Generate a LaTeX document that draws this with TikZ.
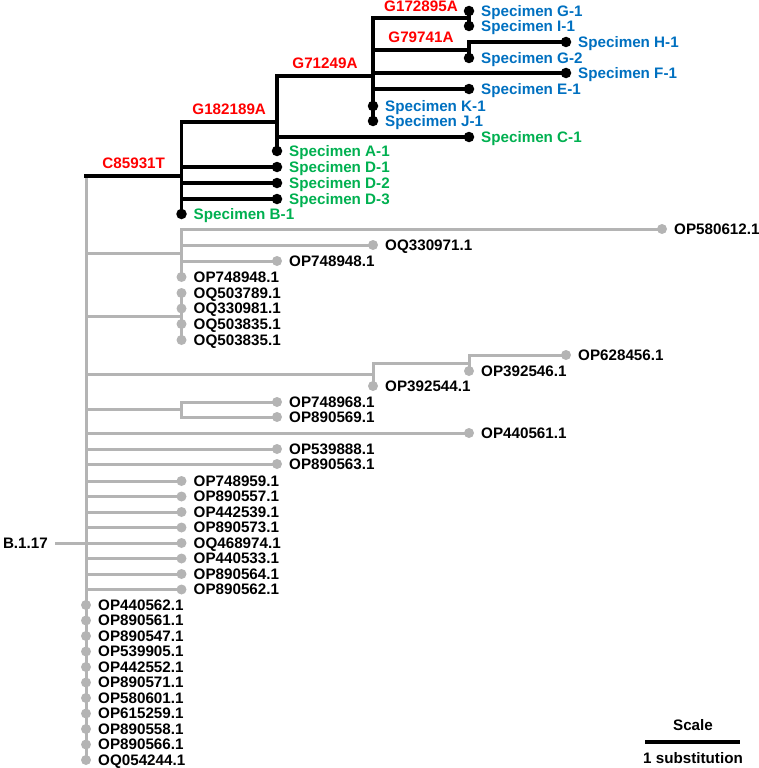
\documentclass[tikz,border=0pt]{standalone}
\usepackage{fontspec}
\setmainfont{Liberation Sans}
\definecolor{tgray}{RGB}{180,180,180}
\definecolor{tred}{RGB}{255,0,0}
\definecolor{tblue}{RGB}{0,112,192}
\definecolor{tgreen}{RGB}{0,176,80}
\pgfdeclarelayer{bg}
\pgfsetlayers{bg,main}
\newcommand\tipnode[6]{\node[#4] (#1) at (#2,#3) {}; \node[lab,text=#5] at ([xshift=12pt]#1.center) {#6};}
\begin{document}
\begin{tikzpicture}[x=1pt,y=-1pt,
  bl/.style={line width=3.2pt, black, line cap=rect},
  gl/.style={line width=3pt, tgray, line cap=rect},
  bdot/.style={circle, fill=black, inner sep=0pt, minimum size=10.5pt},
  gdot/.style={circle, fill=tgray, inner sep=0pt, minimum size=10pt},
  txt/.style={font=\bfseries\fontsize{15.2}{18}\selectfont, inner sep=0pt, text height=10.9pt, text depth=0pt},
  lab/.style={txt, anchor=west},
  mut/.style={txt, text=tred, anchor=center}]
\useasboundingbox (0,0) rectangle (758,768);
% internal nodes
\coordinate (r) at (86,543);
\coordinate (n1) at (181.5,176);
\coordinate (n2) at (277,122);
\coordinate (n3) at (373,76);
\coordinate (n4) at (469,18);
\coordinate (n5) at (469,50);
\coordinate (g1) at (181.5,253);
\coordinate (g2) at (181.5,316);
\coordinate (g3) at (373,374.5);
\coordinate (g4) at (469,363);
\coordinate (g5) at (181.5,409.5);
% black clade tips
\tipnode{G1}{469}{11}{bdot}{tblue}{Specimen G-1}
\tipnode{I1}{469}{26}{bdot}{tblue}{Specimen I-1}
\tipnode{H1}{566}{42}{bdot}{tblue}{Specimen H-1}
\tipnode{G2}{469}{58}{bdot}{tblue}{Specimen G-2}
\tipnode{F1}{566}{73}{bdot}{tblue}{Specimen F-1}
\tipnode{E1}{469}{89}{bdot}{tblue}{Specimen E-1}
\tipnode{K1}{373}{106}{bdot}{tblue}{Specimen K-1}
\tipnode{J1}{373}{121}{bdot}{tblue}{Specimen J-1}
\tipnode{C1}{469}{137}{bdot}{tgreen}{Specimen C-1}
\tipnode{A1}{277}{151}{bdot}{tgreen}{Specimen A-1}
\tipnode{D1}{277}{167}{bdot}{tgreen}{Specimen D-1}
\tipnode{D2}{277}{183}{bdot}{tgreen}{Specimen D-2}
\tipnode{D3}{277}{199}{bdot}{tgreen}{Specimen D-3}
\tipnode{B1}{181.5}{214}{bdot}{tgreen}{Specimen B-1}
% gray tips
\tipnode{P1}{662}{229}{gdot}{black}{OP580612.1}
\tipnode{P2}{373}{245}{gdot}{black}{OQ330971.1}
\tipnode{P3}{277}{261}{gdot}{black}{OP748948.1}
\tipnode{P4}{181.5}{277}{gdot}{black}{OP748948.1}
\tipnode{P5}{181.5}{293}{gdot}{black}{OQ503789.1}
\tipnode{P6}{181.5}{308.5}{gdot}{black}{OQ330981.1}
\tipnode{P7}{181.5}{324}{gdot}{black}{OQ503835.1}
\tipnode{P8}{181.5}{340}{gdot}{black}{OQ503835.1}
\tipnode{P9}{566}{355}{gdot}{black}{OP628456.1}
\tipnode{P10}{469}{371}{gdot}{black}{OP392546.1}
\tipnode{P11}{373}{386}{gdot}{black}{OP392544.1}
\tipnode{P12}{277}{402}{gdot}{black}{OP748968.1}
\tipnode{P13}{277}{417}{gdot}{black}{OP890569.1}
\tipnode{P14}{469}{433}{gdot}{black}{OP440561.1}
\tipnode{P15}{277}{449}{gdot}{black}{OP539888.1}
\tipnode{P16}{277}{464}{gdot}{black}{OP890563.1}
\tipnode{R1}{181.5}{481}{gdot}{black}{OP748959.1}
\tipnode{R2}{181.5}{496.5}{gdot}{black}{OP890557.1}
\tipnode{R3}{181.5}{512}{gdot}{black}{OP442539.1}
\tipnode{R4}{181.5}{527.5}{gdot}{black}{OP890573.1}
\tipnode{R5}{181.5}{543}{gdot}{black}{OQ468974.1}
\tipnode{R6}{181.5}{558.5}{gdot}{black}{OP440533.1}
\tipnode{R7}{181.5}{574}{gdot}{black}{OP890564.1}
\tipnode{R8}{181.5}{589.5}{gdot}{black}{OP890562.1}
\tipnode{Q1}{86}{605}{gdot}{black}{OP440562.1}
\tipnode{Q2}{86}{620.5}{gdot}{black}{OP890561.1}
\tipnode{Q3}{86}{636}{gdot}{black}{OP890547.1}
\tipnode{Q4}{86}{651.5}{gdot}{black}{OP539905.1}
\tipnode{Q5}{86}{667}{gdot}{black}{OP442552.1}
\tipnode{Q6}{86}{682.5}{gdot}{black}{OP890571.1}
\tipnode{Q7}{86}{698}{gdot}{black}{OP580601.1}
\tipnode{Q8}{86}{713.5}{gdot}{black}{OP615259.1}
\tipnode{Q9}{86}{729}{gdot}{black}{OP890558.1}
\tipnode{Q10}{86}{744.5}{gdot}{black}{OP890566.1}
\tipnode{Q11}{86}{760}{gdot}{black}{OQ054244.1}
% root label
\node[txt, anchor=east] (rootlab) at (48,543) {B.1.17};
% mutation labels
\node[mut] (m1) at (133.7,163.5) {C85931T};
\node[mut] (m2) at (229.2,109.5) {G182189A};
\node[mut] (m3) at (325,63) {G71249A};
\node[mut] (m4) at (421,6.5) {G172895A};
\node[mut] (m5) at (421,37.5) {G79741A};
% scale
\node[txt] (sclab) at (693,725) {Scale};
\coordinate (s1) at (645,742);
\coordinate (s2) at (740,742);
\node[txt] (sulab) at (693,758) {1 substitution};
\begin{pgfonlayer}{bg}
% gray branches
\draw[gl, line cap=butt] ([xshift=7pt]rootlab.east) -- (r);
\draw[gl] (r |- n1) -- (Q11);
\draw[gl] (r |- g1) -- (g1);
\draw[gl] (g1 |- P1) -- (P4);
\draw[gl] (g1 |- P1) -- (P1);
\draw[gl] (g1 |- P2) -- (P2);
\draw[gl] (g1 |- P3) -- (P3);
\draw[gl] (r |- g2) -- (g2);
\draw[gl] (P5) -- (P8);
\draw[gl] (r |- g3) -- (g3);
\draw[gl] (g3 |- g4) -- (P11);
\draw[gl] (g3 |- g4) -- (g4);
\draw[gl] (g4 |- P9) -- (P10);
\draw[gl] (g4 |- P9) -- (P9);
\draw[gl] (r |- g5) -- (g5);
\draw[gl] (g5 |- P12) -- (g5 |- P13);
\draw[gl] (g5 |- P12) -- (P12);
\draw[gl] (g5 |- P13) -- (P13);
\foreach \t in {P14,P15,P16,R1,R2,R3,R4,R5,R6,R7,R8}
  \draw[gl] (r |- \t) -- (\t);
% black branches
\draw[bl] (r |- n1) -- (n1);
\draw[bl] (n1 |- n2) -- (B1);
\draw[bl] (n1 |- n2) -- (n2);
\draw[bl] (n1 |- D1) -- (D1);
\draw[bl] (n1 |- D2) -- (D2);
\draw[bl] (n1 |- D3) -- (D3);
\draw[bl] (n2 |- n3) -- (A1);
\draw[bl] (n2 |- n3) -- (n3);
\draw[bl] (n2 |- C1) -- (C1);
\draw[bl] (n3 |- n4) -- (J1);
\draw[bl] (n3 |- n4) -- (n4);
\draw[bl] (n3 |- n5) -- (n5);
\draw[bl] (n3 |- F1) -- (F1);
\draw[bl] (n3 |- E1) -- (E1);
\draw[bl] (G1) -- (I1);
\draw[bl] (n5 |- H1) -- (G2);
\draw[bl] (n5 |- H1) -- (H1);
% scale bar
\draw[bl, line cap=butt] (s1) -- (s2);
\end{pgfonlayer}
\end{tikzpicture}
\end{document}
